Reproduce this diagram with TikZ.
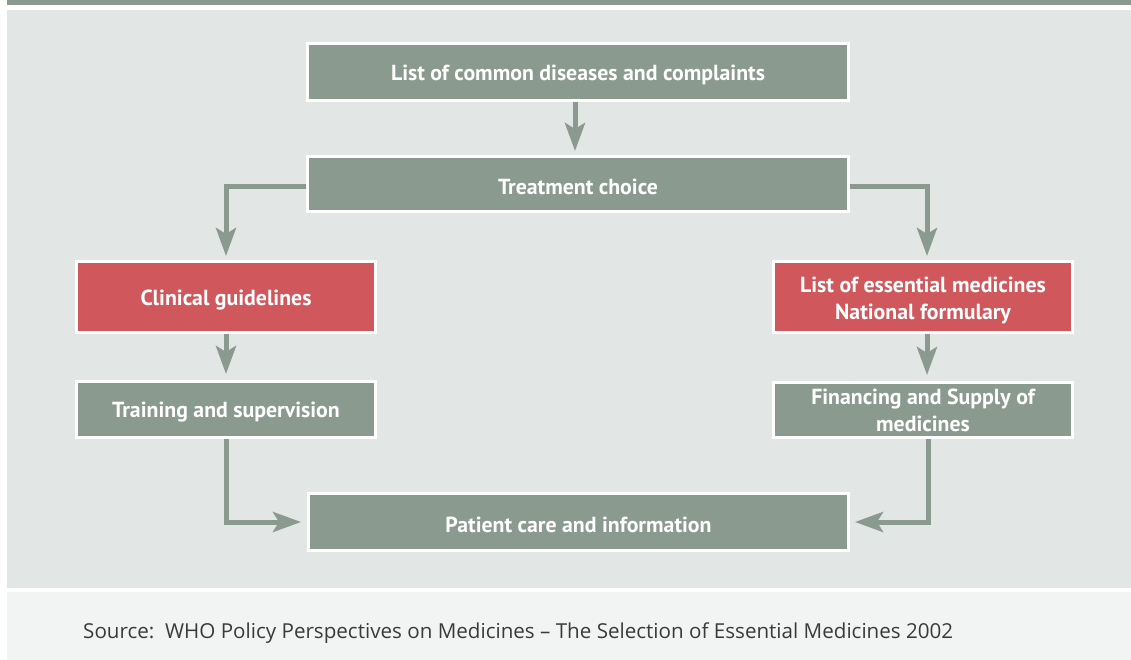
\documentclass[tikz,border=0pt]{standalone}
\usepackage{fontspec}
\setmainfont{PT Sans}
\newfontfamily\srcfont{Open Sans}
\usetikzlibrary{arrows.meta}
\definecolor{sage}{HTML}{8A9A8F}
\definecolor{redbox}{HTML}{D0585D}
\definecolor{panel}{HTML}{E2E6E5}
\definecolor{lowpanel}{HTML}{F2F4F3}
\definecolor{srctext}{HTML}{3A3A3A}
\tikzset{
  box/.style={draw=white, line width=3pt, fill=sage, inner sep=0pt, align=center,
    text=white, font=\fontsize{21.8}{27}\selectfont\bfseries},
  lowered/.style={execute at begin node={\rule{0pt}{21pt}}},
  redb/.style={box, fill=redbox},
  conn/.style={draw=sage, line width=5pt,
    -{Stealth[length=28pt, width=20pt, inset=6pt]}}
}
\begin{document}
\begin{tikzpicture}[x=1pt, y=-1pt]
\useasboundingbox (0,0) rectangle (1131,660);
\fill[white] (0,0) rectangle (1131,660);
\fill[sage] (7,0) rectangle (1131,5.5);
\fill[panel] (7,10) rectangle (1131,588);
\fill[lowpanel] (7,592) rectangle (1131,660);

\node[box, lowered, minimum width=541pt, minimum height=57pt] (b1) at (578,72) {List of common diseases and complaints};
\node[box, lowered, minimum width=541pt, minimum height=55pt] (b2) at (578,184) {Treatment choice};
\node[redb, lowered, minimum width=299pt, minimum height=71pt] (r1) at (226,297) {Clinical guidelines};
\node[redb, minimum width=299pt, minimum height=71pt] (r2) at (923,297)
  {\raisebox{-4pt}[\height][\depth]{\begin{tabular}{@{}c@{}}List of essential medicines\\National formulary\end{tabular}}};
\node[box, lowered, minimum width=299pt, minimum height=56pt] (t1) at (226,409.5) {Training and supervision};
\node[box, minimum width=299pt, minimum height=55pt] (f1) at (923,410) {Financing and Supply of\\medicines};
\node[box, lowered, minimum width=540pt, minimum height=57pt] (p1) at (578.5,522) {Patient care and information};

\node[anchor=west, text=srctext, font=\srcfont\fontsize{20.6}{22}\selectfont, inner sep=0pt] (src) at (83,633)
  {Source:\ \ WHO Policy Perspectives on Medicines – The Selection of Essential Medicines 2002};

\draw[conn, shorten >=4pt] ([xshift=-3pt]b1.south) -- ([xshift=-3pt]b2.north);
\draw[conn, shorten >=4pt] ([yshift=-3pt]b2.west) -| (r1.north);
\draw[conn, shorten >=4pt] ([yshift=-3pt]b2.east) -| ([xshift=4pt]r2.north);
\draw[conn, shorten >=6pt] (r1.south) -- (t1.north);
\draw[conn, shorten >=6pt] ([xshift=4pt]r2.south) -- ([xshift=4pt]f1.north);
\draw[conn, shorten >=6pt] (t1.south) |- (p1.west);
\draw[conn, shorten >=5pt] ([xshift=5pt]f1.south) |- (p1.east);
\end{tikzpicture}
\end{document}
